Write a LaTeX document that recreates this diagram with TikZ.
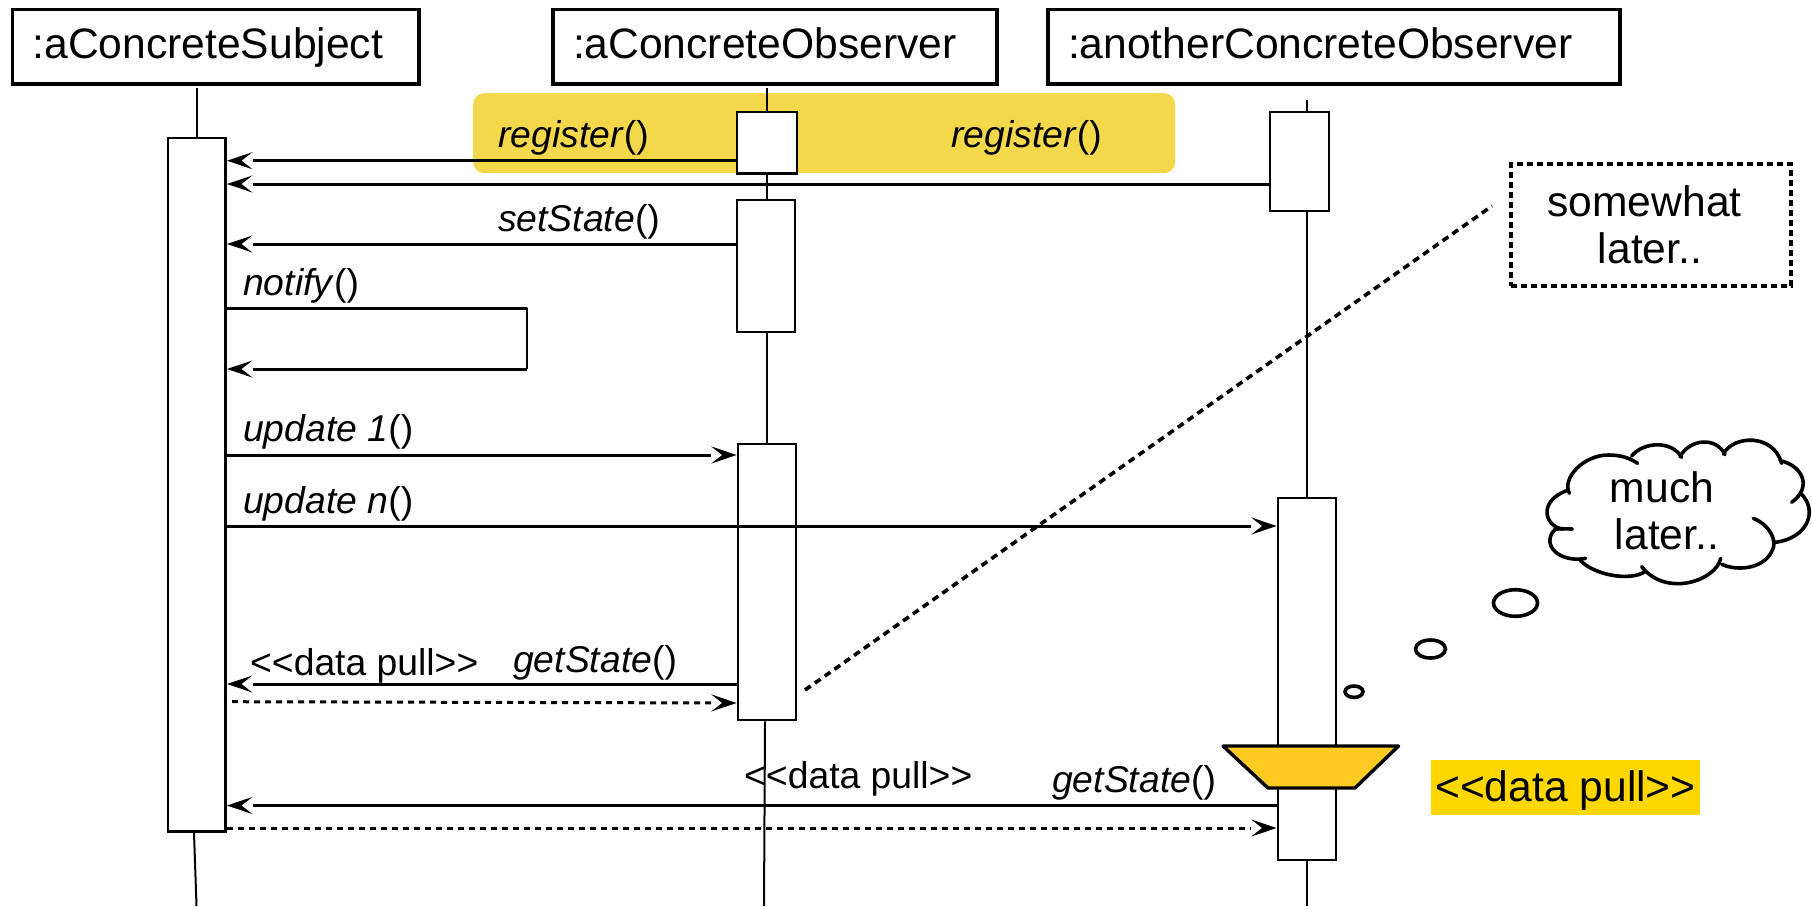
\documentclass[tikz,border=0pt]{standalone}
\usepackage{fontspec}
\setmainfont{Liberation Sans}
\usetikzlibrary{arrows.meta}
\definecolor{hlyellow}{HTML}{F4D84C}
\definecolor{trapyellow}{HTML}{FFCB23}
\definecolor{pullyellow}{HTML}{FFD700}
\pgfdeclarearrow{
    name=msgtip,
    setup code={\pgfarrowssettipend{0pt}\pgfarrowssetbackend{-25.5pt}\pgfarrowssetlineend{-25.5pt}},
    drawing code={
        \pgfpathmoveto{\pgfpoint{0pt}{0pt}}
        \pgfpathlineto{\pgfpoint{-25.5pt}{8.6pt}}
        \pgfpathlineto{\pgfpoint{-14.5pt}{0pt}}
        \pgfpathlineto{\pgfpoint{-25.5pt}{-8.6pt}}
        \pgfpathclose
        \pgfusepathqfill
    }
}
\tikzset{
    bigfont/.style={font=\fontsize{42.6}{47}\selectfont},
    headbox/.style={draw, line width=3.4pt, anchor=north west, bigfont, align=left, inner xsep=20pt, inner ysep=0pt, minimum height=74.5pt, text height=31pt, text depth=7.9pt},
    actbox/.style={draw, fill=white, line width=2.8pt, inner sep=0pt, anchor=north west},
    lifeline/.style={line width=2pt},
    msg/.style={line width=3pt, -{msgtip[]}},
    pullmsg/.style={msg, dash pattern=on 6pt off 5pt},
    lbl/.style={anchor=base west, inner sep=0pt, font=\fontsize{37.3}{42}\selectfont},
    cloudline/.style={line width=3.6pt, line cap=round},
}
\begin{document}
\begin{tikzpicture}[x=1pt, y=-1pt]
    \useasboundingbox (0,0) rectangle (1812,906);
    \pgfmathsetmacro{\xsubject}{196.5}
    \pgfmathsetmacro{\xobserver}{767}
    \pgfmathsetmacro{\xanother}{1307}

    \node[headbox, text width=366.4pt] (headSubject) at (10.9,7.8) {:aConcreteSubject};
    \node[headbox, text width=404pt] (headObserver) at (551.3,7.8) {:aConcreteObserver};
    \node[headbox, text width=532pt] (headAnother) at (1046.3,7.8) {:anotherConcreteObserver};

    \node[fill=hlyellow, rounded corners=11pt, minimum width=702pt, minimum height=80pt, inner sep=0pt, anchor=north west] (hlRegister) at (473,93) {};

    \coordinate (topSubject) at (\xsubject,88);
    \coordinate (topObserver) at (\xobserver,88);
    \coordinate (topAnother) at (\xanother,100);
    \coordinate (endSubject) at (196.5,906);
    \coordinate (endObserver) at (764,906);
    \coordinate (endAnother) at (\xanother,906);

    \node[actbox, minimum width=57.6pt, minimum height=693.4pt] (barSubject) at (166.6,136.6) {};
    \node[actbox, minimum width=60pt, minimum height=61.7pt] (barObsA) at (735.6,110.6) {};
    \node[actbox, minimum width=58pt, minimum height=132pt] (barObsB) at (735.6,198.6) {};
    \node[actbox, minimum width=58pt, minimum height=276pt] (barObsC) at (736.6,442.6) {};
    \node[actbox, minimum width=59pt, minimum height=99pt] (barAnoA) at (1268.6,110.6) {};
    \node[actbox, minimum width=58pt, minimum height=362pt] (barAnoB) at (1276.6,496.6) {};

    \draw[lifeline] (topSubject) -- (barSubject.north -| topSubject);
    \draw[lifeline] (barSubject.south -| 194,0) -- (endSubject);
    \draw[lifeline] (topObserver) -- (barObsA.north -| topObserver);
    \draw[lifeline] (barObsA.south -| topObserver) -- (barObsB.north -| topObserver);
    \draw[lifeline] (barObsB.south -| topObserver) -- (barObsC.north -| topObserver);
    \draw[lifeline] (barObsC.south -| 765,0) -- (endObserver);
    \draw[lifeline] (topAnother) -- (barAnoA.north -| topAnother);
    \draw[lifeline] (barAnoA.south -| topAnother) -- (barAnoB.north -| topAnother);
    \draw[lifeline] (barAnoB.south -| topAnother) -- (endAnother);

    \draw[msg] (barObsA.west |- 0,160.7) -- (barSubject.east |- 0,160.7);
    \draw[msg] (barAnoA.west |- 0,184) -- (barSubject.east |- 0,184);
    \draw[msg] (barObsB.west |- 0,244) -- (barSubject.east |- 0,244);
    \coordinate (notifyA) at (527,308.5);
    \coordinate (notifyB) at (527,369);
    \draw[line width=2.6pt, line join=round] (barSubject.east |- notifyA) -- (notifyA) -- (notifyB);
    \draw[msg] (notifyB) -- (barSubject.east |- notifyB);
    \draw[msg] (barSubject.east |- 0,455) -- (barObsC.west |- 0,455);
    \draw[msg] (barSubject.east |- 0,526) -- (barAnoB.west |- 0,526);
    \draw[msg] (barObsC.west |- 0,684) -- (barSubject.east |- 0,684);
    \draw[pullmsg] (232,701.7) -- (barObsC.west |- 0,703);
    \draw[msg] (barAnoB.west |- 0,805.5) -- (barSubject.east |- 0,805.5);
    \draw[pullmsg] (barSubject.east |- 0,828) -- (barAnoB.west |- 0,828);

    \draw[line width=3.4pt, fill=trapyellow, line join=round] (1223,746) -- (1398.5,746) -- (1355,788) -- (1268,788) -- cycle;

    \node[draw, dash pattern=on 6pt off 4pt, line width=3.4pt, minimum width=280pt, minimum height=122pt] (laterBox) at (1651,225) {};
    \node[bigfont, align=center, inner sep=0pt] (laterText) at (1650,224.5) {somewhat\hspace*{11pt}\\later..};
    \coordinate (noteStart) at (805,690);
    \coordinate (noteEnd) at (1492,206);
    \draw[line width=3.6pt, dash pattern=on 7pt off 5pt] (noteStart) -- (noteEnd);

    \node[lbl] (lblRegA) at (498,147.5) {\textit{register}()};
    \node[lbl] (lblRegB) at (951,147.5) {\textit{register}()};
    \node[lbl] (lblSet) at (498,231) {\textit{setState}()};
    \node[lbl] (lblNotify) at (243,295) {\textit{notify}()};
    \node[lbl] (lblUpdA) at (243,441.5) {\textit{update 1}()};
    \node[lbl] (lblUpdN) at (243,513.5) {\textit{update n}()};
    \node[lbl] (lblPullA) at (250,675.5) {<{}<data pull>{}>};
    \node[lbl] (lblGetA) at (513,672.5) {\textit{getState}()};
    \node[lbl] (lblPullB) at (744,788.5) {<{}<data pull>{}>};
    \node[lbl] (lblGetB) at (1052,792.5) {\textit{getState}()};

    \node[fill=pullyellow, bigfont, inner sep=0pt, minimum width=269pt, minimum height=55pt, text height=31pt, text depth=4pt] (pullNote) at (1565.5,787.5) {<{}<data pull>{}>};

    \begin{scope}[shift={(1530,430)}, scale=0.3333]
        \draw[cloudline] (118,190) .. controls (95,145) and (160,75) .. (235,75) .. controls (275,75) and (300,85) .. (323,100);
        \draw[cloudline] (305,78) .. controls (340,35) and (425,30) .. (455,82);
        \draw[cloudline] (450,80) .. controls (480,25) and (560,20) .. (585,74);
        \draw[cloudline] (580,72) .. controls (610,15) and (730,10) .. (755,100);
        \draw[cloudline] (750,92) .. controls (815,105) and (850,170) .. (785,217);
        \draw[cloudline] (812,190) .. controls (865,240) and (835,325) .. (735,337);
        \draw[cloudline] (670,265) .. controls (720,285) and (745,335) .. (725,365) .. controls (700,415) and (625,425) .. (575,403);
        \draw[cloudline] (572,385) .. controls (560,450) and (410,505) .. (335,410);
        \draw[cloudline] (345,425) .. controls (300,455) and (190,435) .. (150,390);
        \draw[cloudline] (167,385) .. controls (90,400) and (30,345) .. (75,298) .. controls (90,295) and (105,297) .. (127,297);
        \draw[cloudline] (100,297) .. controls (50,295) and (15,215) .. (115,180);
    \end{scope}
    \node[bigfont, align=center, inner sep=0pt] (muchText) at (1667,510.5) {much\hspace*{10pt}\\later..};
    \draw[line width=3.6pt] (1515.5,603) ellipse (22 and 13.3);
    \draw[line width=3.6pt] (1430.5,649) ellipse (15 and 9);
    \draw[line width=3.6pt] (1354,691.7) ellipse (9 and 5.7);
\end{tikzpicture}
\end{document}
